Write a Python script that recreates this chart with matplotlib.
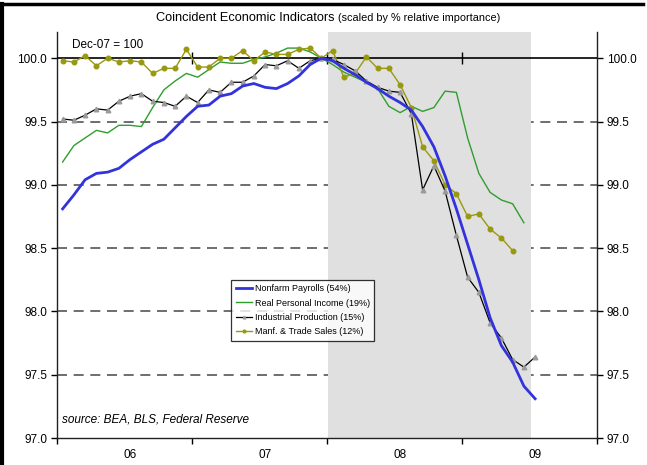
import matplotlib
matplotlib.use("Agg")
import matplotlib.pyplot as plt
from matplotlib.lines import Line2D
import numpy as np

plt.rcParams['font.family'] = ['Liberation Sans', 'DejaVu Sans']

# months counted from Jan-06 (0) ; Dec-07 = 23 = 100
payrolls = [98.81, 98.92, 99.04, 99.09, 99.10, 99.13, 99.20, 99.26, 99.32, 99.36, 99.45, 99.54,
            99.62, 99.63, 99.70, 99.72, 99.78, 99.80, 99.77, 99.76, 99.80, 99.86, 99.95, 100.0,
            99.98, 99.92, 99.87, 99.81, 99.76, 99.70, 99.65, 99.59, 99.46, 99.30, 99.07, 98.81,
            98.53, 98.25, 97.95, 97.73, 97.60, 97.41, 97.31]
income = [99.18, 99.31, 99.37, 99.43, 99.41, 99.47, 99.47, 99.46, 99.61, 99.75, 99.82, 99.88,
          99.85, 99.91, 99.97, 99.96, 99.96, 99.99, 100.01, 100.04, 100.08, 100.08, 100.05, 100.0,
          99.95, 99.89, 99.85, 99.81, 99.76, 99.62, 99.57, 99.62, 99.58, 99.61, 99.74, 99.73,
          99.37, 99.09, 98.94, 98.88, 98.85, 98.70]
indprod = [99.52, 99.51, 99.55, 99.60, 99.59, 99.66, 99.70, 99.72, 99.66, 99.65, 99.62, 99.70,
           99.65, 99.75, 99.73, 99.81, 99.81, 99.86, 99.95, 99.94, 99.98, 99.92, 99.98, 100.0,
           99.99, 99.95, 99.90, 99.82, 99.77, 99.74, 99.73, 99.56, 98.96, 99.15, 98.95, 98.60,
           98.27, 98.15, 97.91, 97.79, 97.62, 97.56, 97.64]
manf = [99.98, 99.97, 100.02, 99.94, 100.00, 99.97, 99.98, 99.97, 99.88, 99.92, 99.92, 100.07,
        99.93, 99.93, 100.0, 100.0, 100.06, 99.98, 100.05, 100.03, 100.03, 100.07, 100.08, 100.0,
        100.06, 99.85, 99.88, 100.01, 99.92, 99.92, 99.79, 99.61, 99.30, 99.19, 99.0, 98.93,
        98.75, 98.77, 98.65, 98.58, 98.48]

year_labels = ['06', '07', '08', '09']
y_ticks = [97.0, 97.5, 98.0, 98.5, 99.0, 99.5, 100.0]
recession = (23.55, 41.6)

fig = plt.figure(figsize=(6.47, 4.65), dpi=100)
ax = fig.add_axes([57/647, 1 - 438/465, (597 - 57)/647, (438 - 32)/465])

ax.set_xlim(-0.5, 47.5)
ax.set_ylim(97.0, 100.207)

# dashed grid
for v in y_ticks[1:-1]:
    ax.axhline(v, color='#555555', lw=1.2, ls=(0, (6, 4)), zorder=1)

ax.axvspan(*recession, color='#E0E0E0', lw=0, zorder=2)

ax.axhline(100.0, color='black', lw=1.2, zorder=3)
for b in [11.5, 23.5, 35.5]:
    ax.plot([b], [100.0], marker='|', color='black', ms=9, mew=1, zorder=3)

ax.plot(np.arange(len(income)), income, color='#2E9E2E', lw=1.0, zorder=4,
        label='Real Personal Income (19%)')
ax.plot(np.arange(len(manf)), manf, color='#999911', lw=1.0, marker='o', ms=3.3,
        mfc='#999911', mec='#999911', zorder=5, label='Manf. & Trade Sales (12%)')
ax.plot(np.arange(len(indprod)), indprod, color='black', lw=0.9, marker='^', ms=3.3,
        mfc='#9A9A9A', mec='#9A9A9A', zorder=6, label='Industrial Production (15%)')
ax.plot(np.arange(len(payrolls)), payrolls, color='#3333DD', lw=2.0, zorder=7,
        label='Nonfarm Payrolls (54%)')

ax.set_yticks(y_ticks)
ax.set_yticklabels(['%.1f' % v for v in y_ticks])
ax.tick_params(axis='y', direction='out', length=4, width=1, labelsize=8.5,
               right=True, labelright=True, pad=3)
ax.set_xticks([-0.5, 11.5, 23.5, 35.5, 47.5])
ax.set_xticklabels([])
ax.set_xticks([6, 18, 30, 42], minor=True)
ax.set_xticklabels(year_labels, minor=True)
ax.tick_params(axis='x', which='major', direction='out', length=4, width=1)
ax.tick_params(axis='x', which='minor', length=0, labelsize=8.5, pad=8)

ax.spines['top'].set_visible(False)
for s in ['left', 'right', 'bottom']:
    ax.spines[s].set_linewidth(1)
    ax.spines[s].set_color('#222222')

h, l = ax.get_legend_handles_labels()
order = [3, 0, 2, 1]
leg = ax.legend([h[i] for i in order], [l[i] for i in order], loc='upper left',
                bbox_to_anchor=(0.314, 0.401), fontsize=6.5, frameon=True, fancybox=False,
                edgecolor='black', handlelength=1.8, labelspacing=0.6, borderpad=0.5,
                handletextpad=0.3, markerscale=0.6)
leg.get_frame().set_linewidth(0.9)
leg.set_zorder(10)

ax.text((72 - 57)/540, 0.968, 'Dec-07 = 100', transform=ax.transAxes, fontsize=8.5,
        ha='left', va='center', zorder=8)
ax.text((62 - 57)/540, 0.045, 'source: BEA, BLS, Federal Reserve', transform=ax.transAxes,
        fontsize=8.5, style='italic', ha='left', va='center', zorder=8)

fig.text(335/647, 1 - 18/465, 'Coincident Economic Indicators', fontsize=9.2,
         ha='right', va='center')
fig.text(338/647, 1 - 18/465, '(scaled by % relative importance)', fontsize=7.8,
         ha='left', va='center')

# outer frame
fig.add_artist(Line2D([0, 643/647], [1 - 4/465, 1 - 4/465], color='black', lw=2.5,
                      transform=fig.transFigure))
fig.add_artist(Line2D([1.5/647, 1.5/647], [0, 1 - 4/465], color='black', lw=3,
                      transform=fig.transFigure))

fig.savefig('out.png', dpi=100)
